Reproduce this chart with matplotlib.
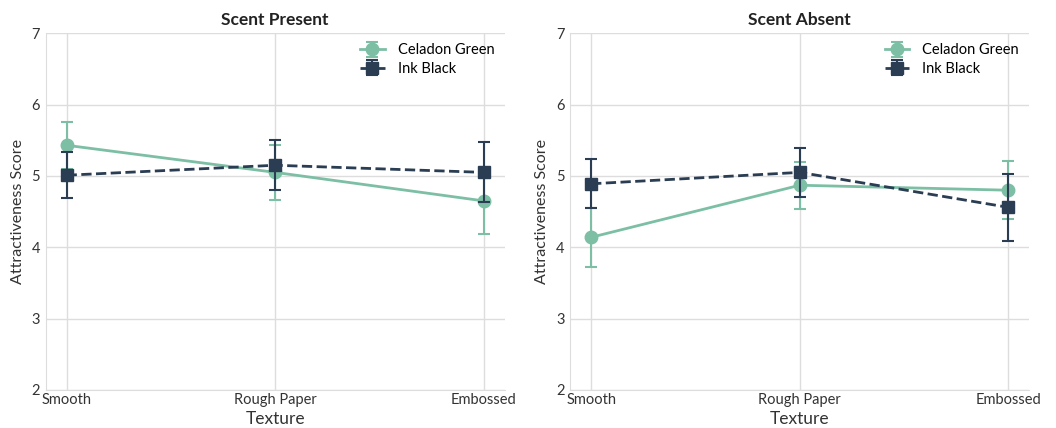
# %% imports

import numpy as np
import matplotlib.pyplot as plt

# %% data

textures = ['Smooth', 'Rough Paper', 'Embossed']
panels = ['Scent Present', 'Scent Absent']

green_present = [5.43, 5.05, 4.65]
green_present_err = [0.33, 0.39, 0.46]
black_present = [5.01, 5.15, 5.05]
black_present_err = [0.32, 0.35, 0.42]

green_absent = [4.14, 4.87, 4.80]
green_absent_err = [0.41, 0.33, 0.41]
black_absent = [4.89, 5.05, 4.56]
black_absent_err = [0.345, 0.34, 0.47]

GREEN = '#7dbfa5'
INK = '#2b3d52'

# %% plot

plt.rcParams['font.family'] = ['Lato', 'DejaVu Sans']

fig = plt.figure(figsize=(10.56, 4.28), dpi=100)
ax1 = fig.add_axes([0.0433, 0.0888, 0.4347, 0.8335])
ax2 = fig.add_axes([0.5400, 0.0888, 0.4347, 0.8335])

x = np.arange(len(textures))
series = [
    (green_present, green_present_err, black_present, black_present_err),
    (green_absent, green_absent_err, black_absent, black_absent_err),
]

for ax, title, (g, ge, b, be) in zip([ax1, ax2], panels, series):
    ax.errorbar(x, g, yerr=ge, color=GREEN, marker='o', markersize=9,
                linewidth=2, elinewidth=1.5, capsize=4, capthick=1.5,
                label='Celadon Green', zorder=3)
    ax.errorbar(x, b, yerr=be, color=INK, marker='s', markersize=9,
                linewidth=2, linestyle='--', elinewidth=1.5, capsize=4,
                capthick=1.5, label='Ink Black', zorder=4)
    ax.set_xlim(-0.1, 2.1)
    ax.set_ylim(2, 7)
    ax.set_xticks(x)
    ax.set_xticklabels(textures, fontsize=10.5, color='#333333')
    ax.set_yticks([2, 3, 4, 5, 6, 7])
    ax.tick_params(axis='y', labelsize=10.5, colors='#333333', length=0, pad=4)
    ax.tick_params(axis='x', length=0, pad=2)
    ax.set_title(title, fontsize=12.5, fontweight='bold', color='#222222', pad=6)
    ax.set_xlabel('Texture', fontsize=12.5, color='#333333', labelpad=3)
    ax.set_ylabel('Attractiveness Score', fontsize=11.5, color='#333333', labelpad=5)
    ax.grid(True, color='#dddddd', linewidth=1)
    ax.set_axisbelow(True)
    for side in ['top', 'right']:
        ax.spines[side].set_visible(False)
    for side in ['left', 'bottom']:
        ax.spines[side].set_color('#dddddd')
    ax.legend(loc='upper right', frameon=False, fontsize=10.5, handlelength=1.7,
              handletextpad=0.9, borderaxespad=0.3, labelspacing=0.3)

plt.savefig('out.png', dpi=100)
